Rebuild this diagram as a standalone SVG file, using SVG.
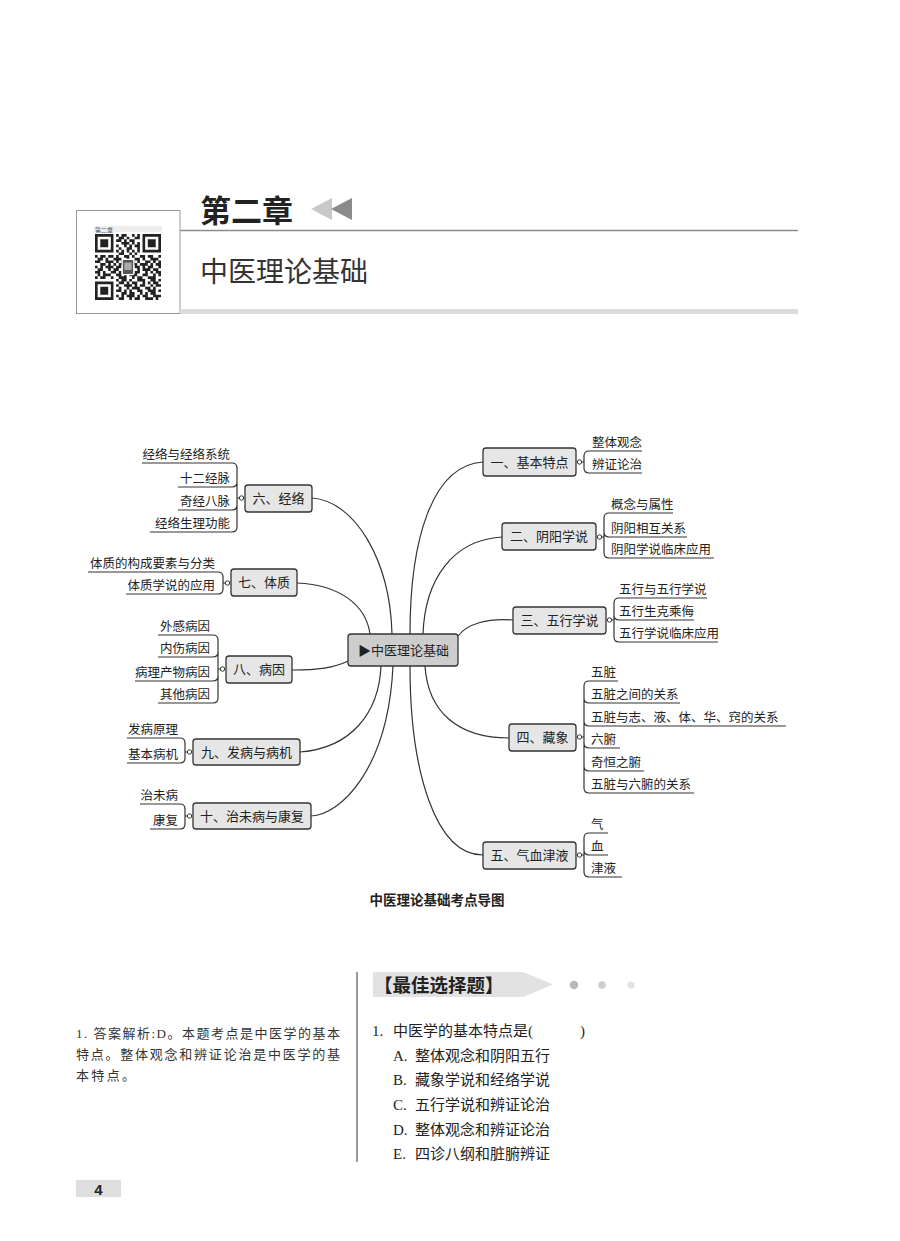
<svg xmlns="http://www.w3.org/2000/svg" width="900" height="1241" viewBox="0 0 900 1241">
<style>
.box{fill:#e6e6e6;stroke:#333;stroke-width:1.3}
.cbox{fill:#cdcdcd;stroke:#333;stroke-width:1.3}
.ln{fill:none;stroke:#333;stroke-width:1.2}
.dot{fill:#fff;stroke:#333;stroke-width:1}
.nt{font-family:"Noto Sans CJK SC",sans-serif;font-size:13px;fill:#222;text-anchor:middle}
.ct{font-family:"Noto Sans CJK SC",sans-serif;font-size:12.5px;fill:#222}
.r{text-anchor:end}
.q{font-family:"Liberation Serif","Noto Sans CJK SC",serif;font-size:15px;fill:#222}
.a{font-family:"Liberation Serif","Noto Sans CJK SC",serif;font-size:13px;fill:#333}
</style>
<rect width="900" height="1241" fill="#fff"/>

<g id="header">
  <rect x="76.5" y="210.5" width="103.5" height="103" fill="#fff" stroke="#9a9a9a" stroke-width="1"/>
  <rect x="180" y="309" width="618" height="5" fill="#dcdcdc"/>
  <line x1="180" y1="230.5" x2="798" y2="230.5" stroke="#8c8c8c" stroke-width="1.5"/>
  <text x="200" y="222" font-family="'Noto Sans CJK SC',sans-serif" font-size="31" font-weight="bold" fill="#222">第二章</text>
  <polygon points="332,198 332,220 311,209" fill="#c8c8c8"/>
  <polygon points="352,198 352,220 331,209" fill="#8a8a8a"/>
  <text x="200" y="282" font-family="'Noto Sans CJK SC',sans-serif" font-size="28" fill="#333">中医理论基础</text>
</g>

<g id="qrcode">
  <rect x="94" y="226" width="68" height="6" fill="#eeeeee"/>
  <text x="95" y="231.5" font-family="'Noto Sans CJK SC',sans-serif" font-size="6" fill="#555">第二章</text>
  <g transform="translate(95,234) scale(2.64)" fill="#222">
    <path fill-rule="evenodd" d="M0 0h7v7h-7zM1 1v5h5v-5zM2 2h3v3h-3zM18 0h7v7h-7zM19 1v5h5v-5zM20 2h3v3h-3zM0 18h7v7h-7zM1 19v5h5v-5zM2 20h3v3h-3z"/>
    <path d="M8 0h1v1h-1zM10 0h2v1h-2zM14 0h1v1h-1zM16 0h1v1h-1zM9 1h2v1h-2zM12 1h1v1h-1zM15 1h2v1h-2zM8 2h2v1h-2zM11 2h1v1h-1zM13 2h2v1h-2zM10 3h3v1h-3zM14 3h1v1h-1zM16 3h1v1h-1zM8 4h1v1h-1zM11 4h1v1h-1zM13 4h1v1h-1zM15 4h2v1h-2zM9 5h1v1h-1zM12 5h2v1h-2zM16 5h1v1h-1zM8 6h1v1h-1zM10 6h1v1h-1zM12 6h1v1h-1zM14 6h1v1h-1zM16 6h1v1h-1zM9 7h2v1h-2zM13 7h1v1h-1zM15 7h1v1h-1zM0 8h1v1h-1zM2 8h2v1h-2zM5 8h2v1h-2zM8 8h1v1h-1zM11 8h2v1h-2zM14 8h1v1h-1zM17 8h2v1h-2zM20 8h2v1h-2zM24 8h1v1h-1zM1 9h2v1h-2zM4 9h1v1h-1zM7 9h3v1h-3zM12 9h1v1h-1zM15 9h2v1h-2zM18 9h1v1h-1zM21 9h3v1h-3zM0 10h2v1h-2zM4 10h3v1h-3zM8 10h1v1h-1zM10 10h2v1h-2zM13 10h2v1h-2zM16 10h1v1h-1zM19 10h2v1h-2zM22 10h1v1h-1zM24 10h1v1h-1zM2 11h2v1h-2zM5 11h1v1h-1zM7 11h1v1h-1zM9 11h2v1h-2zM14 11h2v1h-2zM17 11h3v1h-3zM21 11h1v1h-1zM23 11h2v1h-2zM0 12h1v1h-1zM2 12h1v1h-1zM4 12h3v1h-3zM8 12h2v1h-2zM15 12h2v1h-2zM18 12h1v1h-1zM20 12h2v1h-2zM24 12h1v1h-1zM1 13h2v1h-2zM5 13h1v1h-1zM7 13h2v1h-2zM16 13h1v1h-1zM18 13h3v1h-3zM22 13h2v1h-2zM0 14h2v1h-2zM3 14h1v1h-1zM6 14h2v1h-2zM9 14h1v1h-1zM15 14h2v1h-2zM19 14h1v1h-1zM21 14h1v1h-1zM23 14h2v1h-2zM1 15h1v1h-1zM3 15h3v1h-3zM8 15h2v1h-2zM11 15h1v1h-1zM13 15h3v1h-3zM18 15h2v1h-2zM22 15h1v1h-1zM24 15h1v1h-1zM0 16h1v1h-1zM2 16h2v1h-2zM6 16h1v1h-1zM9 16h3v1h-3zM14 16h1v1h-1zM16 16h2v1h-2zM20 16h3v1h-3zM8 17h1v1h-1zM10 17h2v1h-2zM13 17h1v1h-1zM16 17h3v1h-3zM21 17h2v1h-2zM24 17h1v1h-1zM9 18h2v1h-2zM12 18h1v1h-1zM14 18h2v1h-2zM18 18h1v1h-1zM20 18h1v1h-1zM22 18h2v1h-2zM8 19h1v1h-1zM11 19h3v1h-3zM15 19h1v1h-1zM17 19h2v1h-2zM21 19h1v1h-1zM23 19h2v1h-2zM9 20h1v1h-1zM12 20h1v1h-1zM14 20h3v1h-3zM19 20h2v1h-2zM22 20h1v1h-1zM8 21h2v1h-2zM11 21h1v1h-1zM13 21h1v1h-1zM16 21h2v1h-2zM20 21h3v1h-3zM24 21h1v1h-1zM10 22h2v1h-2zM13 22h2v1h-2zM17 22h1v1h-1zM19 22h1v1h-1zM21 22h2v1h-2zM8 23h1v1h-1zM10 23h1v1h-1zM12 23h3v1h-3zM16 23h1v1h-1zM18 23h2v1h-2zM22 23h3v1h-3zM9 24h2v1h-2zM13 24h1v1h-1zM15 24h2v1h-2zM19 24h3v1h-3zM23 24h1v1h-1z"/>
    <rect x="10.3" y="9.6" width="4.4" height="5.8" rx="0.5" fill="#555" stroke="#fff" stroke-width="0.5"/>
    <rect x="11.1" y="10.8" width="2.8" height="2.8" fill="#aaa"/>
  </g>
</g>

<g id="connectors">
  <path class="ln" d="M312 498C355 501 390 560 392 634"/>
  <path class="ln" d="M297 583C340 585 366 605 370 634"/>
  <path class="ln" d="M292 670C318 670 334 668 348 661"/>
  <path class="ln" d="M300 752C352 748 379 712 381 666"/>
  <path class="ln" d="M311 816C340 815 388 770 393 666"/>
  <path class="ln" d="M483 462C432 465 410 540 410 634"/>
  <path class="ln" d="M502 537C452 540 425 580 423 634"/>
  <path class="ln" d="M513 620C487 618 467 624 458 636"/>
  <path class="ln" d="M509 738C458 738 428 712 425 666"/>
  <path class="ln" d="M483 855C435 855 410 770 410 666"/>
</g>

<g id="center">
  <rect class="cbox" x="348" y="634" width="110" height="32" rx="3"/>
  <text class="nt" x="403.5" y="655">▶中医理论基础</text>
</g>

<g id="n1">
  <rect class="box" x="483" y="448" width="93" height="28" rx="3"/>
  <text class="nt" x="529.5" y="466.5">一、基本特点</text>
  <path class="ln" d="M581.5 462H584M584 456V468M584 456Q584 451 589 451H642M584 468Q584 473 589 473H642"/>
  <circle class="dot" cx="579.5" cy="462" r="2.2"/>
  <text class="ct" x="592" y="447">整体观念</text>
  <text class="ct" x="592" y="469">辨证论治</text>
</g>

<g id="n2">
  <rect class="box" x="502" y="523" width="94" height="27" rx="3"/>
  <text class="nt" x="549" y="541">二、阴阳学说</text>
  <path class="ln" d="M601.5 537H604M604 518V553M604 518Q604 513 609 513H673M604 532Q604 537 609 537H687M604 553Q604 558 609 558H714"/>
  <circle class="dot" cx="599.5" cy="537" r="2.2"/>
  <text class="ct" x="611" y="509">概念与属性</text>
  <text class="ct" x="611" y="533">阴阳相互关系</text>
  <text class="ct" x="611" y="554">阴阳学说临床应用</text>
</g>

<g id="n3">
  <rect class="box" x="513" y="607" width="93" height="27" rx="3"/>
  <text class="nt" x="559.5" y="625">三、五行学说</text>
  <path class="ln" d="M611.5 620H614M614 603V637M614 603Q614 598 619 598H707M614 615Q614 620 619 620H694M614 637Q614 642 619 642H718"/>
  <circle class="dot" cx="609.5" cy="620" r="2.2"/>
  <text class="ct" x="619" y="594">五行与五行学说</text>
  <text class="ct" x="619" y="616">五行生克乘侮</text>
  <text class="ct" x="619" y="638">五行学说临床应用</text>
</g>

<g id="n4">
  <rect class="box" x="509" y="724" width="67" height="27" rx="3"/>
  <text class="nt" x="542.5" y="742">四、藏象</text>
  <path class="ln" d="M581.5 737H584M584 686V788M584 686Q584 681 589 681H618M584 698Q584 703 589 703H680M584 721Q584 726 589 726H786M584 743Q584 748 589 748H620M584 766Q584 771 589 771H644M584 788Q584 793 589 793H694"/>
  <circle class="dot" cx="579.5" cy="737" r="2.2"/>
  <text class="ct" x="591" y="677">五脏</text>
  <text class="ct" x="591" y="699">五脏之间的关系</text>
  <text class="ct" x="591" y="722">五脏与志、液、体、华、窍的关系</text>
  <text class="ct" x="591" y="744">六腑</text>
  <text class="ct" x="591" y="767">奇恒之腑</text>
  <text class="ct" x="591" y="789">五脏与六腑的关系</text>
</g>

<g id="n5">
  <rect class="box" x="483" y="842" width="93" height="27" rx="3"/>
  <text class="nt" x="529.5" y="860">五、气血津液</text>
  <path class="ln" d="M581.5 855H584M584 838V872M584 838Q584 833 589 833H608M584 850Q584 855 589 855H608M584 872Q584 877 589 877H622"/>
  <circle class="dot" cx="579.5" cy="855" r="2.2"/>
  <text class="ct" x="591" y="829">气</text>
  <text class="ct" x="591" y="851">血</text>
  <text class="ct" x="591" y="873">津液</text>
</g>

<g id="n6">
  <rect class="box" x="245" y="485" width="67" height="27" rx="3"/>
  <text class="nt" x="278.5" y="503">六、经络</text>
  <path class="ln" d="M239.5 498H237M237 468V527M237 468Q237 463 232 463H142M237 482Q237 487 232 487H178M237 505Q237 510 232 510H178M237 527Q237 532 232 532H150"/>
  <circle class="dot" cx="241.5" cy="498" r="2.2"/>
  <text class="ct r" x="230" y="459">经络与经络系统</text>
  <text class="ct r" x="230" y="483">十二经脉</text>
  <text class="ct r" x="230" y="506">奇经八脉</text>
  <text class="ct r" x="230" y="528">经络生理功能</text>
</g>

<g id="n7">
  <rect class="box" x="231" y="569" width="66" height="27" rx="3"/>
  <text class="nt" x="264" y="587">七、体质</text>
  <path class="ln" d="M225.5 583H223M223 577V589M223 577Q223 572 218 572H88M223 589Q223 594 218 594H126"/>
  <circle class="dot" cx="227.5" cy="583" r="2.2"/>
  <text class="ct r" x="215" y="568">体质的构成要素与分类</text>
  <text class="ct r" x="215" y="590">体质学说的应用</text>
</g>

<g id="n8">
  <rect class="box" x="226" y="656" width="66" height="27" rx="3"/>
  <text class="nt" x="259" y="674">八、病因</text>
  <path class="ln" d="M220.5 669H218M218 640V698M218 640Q218 635 213 635H158M218 652Q218 657 213 657H158M218 676Q218 681 213 681H135M218 698Q218 703 213 703H158"/>
  <circle class="dot" cx="222.5" cy="669" r="2.2"/>
  <text class="ct r" x="210" y="631">外感病因</text>
  <text class="ct r" x="210" y="653">内伤病因</text>
  <text class="ct r" x="210" y="677">病理产物病因</text>
  <text class="ct r" x="210" y="699">其他病因</text>
</g>

<g id="n9">
  <rect class="box" x="193" y="739" width="107" height="26" rx="3"/>
  <text class="nt" x="246.5" y="756.5">九、发病与病机</text>
  <path class="ln" d="M187.5 752H185M185 743V758M185 743Q185 738 180 738H127M185 758Q185 763 180 763H127"/>
  <circle class="dot" cx="189.5" cy="752" r="2.2"/>
  <text class="ct r" x="178" y="734">发病原理</text>
  <text class="ct r" x="178" y="759">基本病机</text>
</g>

<g id="n10">
  <rect class="box" x="193" y="803" width="118" height="26" rx="3"/>
  <text class="nt" x="252" y="820.5">十、治未病与康复</text>
  <path class="ln" d="M187.5 816H185M185 809V824M185 809Q185 804 180 804H140M185 824Q185 829 180 829H150"/>
  <circle class="dot" cx="189.5" cy="816" r="2.2"/>
  <text class="ct r" x="178" y="800">治未病</text>
  <text class="ct r" x="178" y="825">康复</text>
</g>

<text x="437" y="905" text-anchor="middle" font-family="'Noto Sans CJK SC',sans-serif" font-size="13.5" font-weight="bold" fill="#222">中医理论基础考点导图</text>

<g id="answer">
  <text class="a" x="76" y="1038" textLength="264" lengthAdjust="spacing">1. 答案解析:D。本题考点是中医学的基本</text>
  <text class="a" x="76" y="1059" textLength="264" lengthAdjust="spacing">特点。整体观念和辨证论治是中医学的基</text>
  <text class="a" x="76" y="1080" textLength="59" lengthAdjust="spacing">本特点。</text>
</g>

<line x1="357" y1="972" x2="357" y2="1162" stroke="#777" stroke-width="1.5"/>

<g id="section">
  <polygon points="373,972 523,972 553,984.5 523,997 373,997" fill="#e2e2e2"/>
  <text x="374" y="992" font-family="'Noto Sans CJK SC',sans-serif" font-size="18.5" font-weight="bold" fill="#222">【最佳选择题】</text>
  <circle cx="574" cy="985" r="4.2" fill="#b8b8b8"/>
  <circle cx="602" cy="985" r="3.8" fill="#cdcdcd"/>
  <circle cx="631" cy="985" r="3.6" fill="#e2e2e2"/>
</g>

<g id="question">
  <text class="q" x="372" y="1036">1.</text>
  <text class="q" x="393" y="1036">中医学的基本特点是(</text>
  <text class="q" x="580" y="1036">)</text>
  <text class="q" x="393" y="1061">A.</text>
  <text class="q" x="415" y="1061">整体观念和阴阳五行</text>
  <text class="q" x="393" y="1085">B.</text>
  <text class="q" x="415" y="1085">藏象学说和经络学说</text>
  <text class="q" x="393" y="1110">C.</text>
  <text class="q" x="415" y="1110">五行学说和辨证论治</text>
  <text class="q" x="393" y="1135">D.</text>
  <text class="q" x="415" y="1135">整体观念和辨证论治</text>
  <text class="q" x="393" y="1159">E.</text>
  <text class="q" x="415" y="1159">四诊八纲和脏腑辨证</text>
</g>

<g id="page">
  <rect x="76" y="1180" width="45" height="17" fill="#dedede"/>
  <text x="98.5" y="1195" text-anchor="middle" font-family="'Liberation Sans',sans-serif" font-size="15" font-weight="bold" fill="#222">4</text>
</g>
</svg>
